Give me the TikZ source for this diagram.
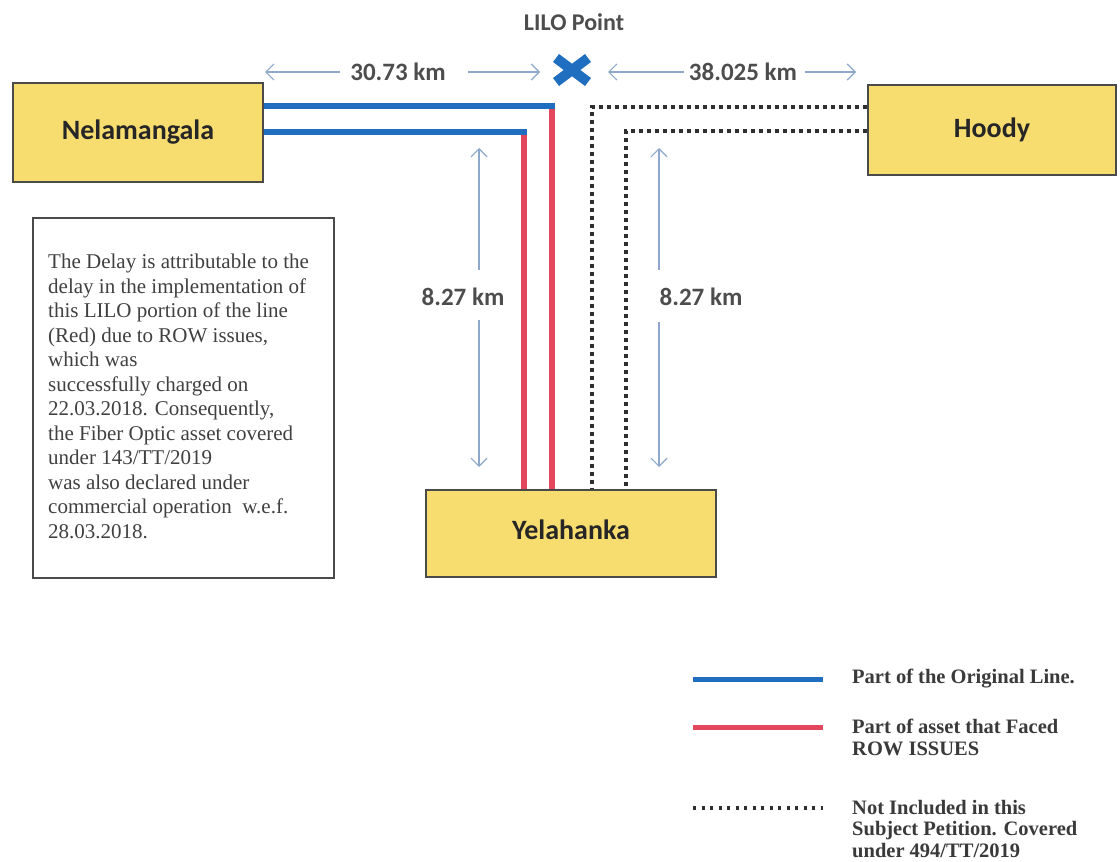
\documentclass[tikz,border=0pt]{standalone}
\usepackage{fontspec}
\setmainfont{Liberation Serif}
\newfontfamily\calib{Carlito}
\usetikzlibrary{arrows.meta}
\definecolor{boxyellow}{HTML}{F7DC6F}
\definecolor{boxborder}{HTML}{4A4A4A}
\definecolor{lineblue}{HTML}{1F6EC0}
\definecolor{linered}{HTML}{E2475E}
\definecolor{dimblue}{HTML}{8EA8CC}
\definecolor{labelgray}{HTML}{4D4D4D}
\definecolor{dotgray}{HTML}{2E2E2E}
\definecolor{legendgray}{HTML}{3A3A3A}
\begin{document}
\begin{tikzpicture}[x=1pt,y=-1pt,
  station/.style={draw=boxborder, line width=1.5pt, fill=boxyellow, inner sep=0pt,
    font=\calib\fontsize{28}{32}\selectfont\bfseries, text=black!85},
  dimlabel/.style={inner sep=0pt, font=\calib\fontsize{25}{30}\selectfont\bfseries, text=labelgray},
  dimarrow/.style={draw=dimblue, line width=1.2pt, -{Straight Barb[length=8pt,width=16pt]}},
  blueline/.style={draw=lineblue, line width=6pt},
  redline/.style={draw=linered, line width=6pt},
  dotline/.style={draw=dotgray, line width=4pt, dash pattern=on 4pt off 4pt},
  legendtext/.style={anchor=north west, inner sep=0pt, align=left, text=legendgray,
    font=\fontsize{20.5}{21.5}\selectfont\bfseries},
]
\useasboundingbox[fill=white] (0,0) rectangle (1120,862);

% stations
\node[station, minimum width=250pt, minimum height=99pt] (nel) at (138,132.5) {Nelamangala};
\node[station, minimum width=248pt, minimum height=90pt] (hoody) at (992,130) {\raisebox{4pt}{Hoody}};
\node[station, minimum width=290pt, minimum height=87pt] (yel) at (571,533.5) {\raisebox{7pt}{Yelahanka}};

% LILO point
\coordinate (lilo) at (572,70);
\node[font=\calib\fontsize{24}{28}\selectfont\bfseries, text=labelgray, inner sep=0pt] (lilolabel) at (574,22) {LILO Point};
\draw[draw=lineblue, line width=10pt] ([shift={(-16,-12)}]lilo) -- ([shift={(16,12)}]lilo);
\draw[draw=lineblue, line width=10pt] ([shift={(-16,12)}]lilo) -- ([shift={(16,-12)}]lilo);

% original and LILO lines
\coordinate (b1) at (552,106);
\coordinate (b2) at (524,132);
\draw[redline] (b1) -- (b1 |- yel.north);
\draw[redline] (b2) -- (b2 |- yel.north);
\draw[blueline] (nel.east |- b1) -- ([xshift=3pt]b1);
\draw[blueline] (nel.east |- b2) -- ([xshift=3pt]b2);

% dotted lines to Hoody
\coordinate (c1) at (592,107);
\coordinate (c2) at (626,131);
\draw[dotline] (hoody.west |- c1) -- (c1) -- (c1 |- yel.north);
\draw[dotline] (hoody.west |- c2) -- (c2) -- (c2 |- yel.north);

% distance 30.73 km
\node[dimlabel] (dimA) at (398,72) {30.73 km};
\coordinate (aL1) at (340,72); \coordinate (aL2) at (265,72);
\coordinate (aR1) at (468,72); \coordinate (aR2) at (540,72);
\draw[dimarrow] (aL1) -- (aL2);
\draw[dimarrow] (aR1) -- (aR2);

% distance 38.025 km
\node[dimlabel] (dimB) at (743,72) {38.025 km};
\coordinate (bL1) at (684,72); \coordinate (bL2) at (608,72);
\coordinate (bR1) at (805,72); \coordinate (bR2) at (856,72);
\draw[dimarrow] (bL1) -- (bL2);
\draw[dimarrow] (bR1) -- (bR2);

% vertical distances
\node[dimlabel] (dimC) at (463,297) {8.27 km};
\coordinate (cU1) at (479,270); \coordinate (cU2) at (479,148);
\coordinate (cD1) at (479,320); \coordinate (cD2) at (479,467);
\draw[dimarrow] (cU1) -- (cU2);
\draw[dimarrow] (cD1) -- (cD2);

\node[dimlabel] (dimD) at (701,297) {8.27 km};
\coordinate (dU1) at (659,270); \coordinate (dU2) at (659,148);
\coordinate (dD1) at (659,322); \coordinate (dD2) at (659,467);
\draw[dimarrow] (dU1) -- (dU2);
\draw[dimarrow] (dD1) -- (dD2);

% note box
\node[draw=boxborder, line width=1.8pt, minimum width=301pt, minimum height=360pt,
  anchor=north west, inner sep=0pt] (note) at (32,217) {};
\node[anchor=north west, inner sep=0pt, align=left, text=black!75,
  font=\fontsize{21}{24.5}\selectfont] (notetext) at (48,254) {The Delay is attributable to the\\
delay in the implementation of\\
this LILO portion of the line\\
(Red) due to ROW issues,\\
which was\\
successfully charged on\\
22.03.2018. Consequently,\\
the Fiber Optic asset covered\\
under 143/TT/2019\\
was also declared under\\
commercial operation\ \ w.e.f.\\
28.03.2018.};

% legend
\coordinate (l1a) at (693,679); \coordinate (l1b) at (823,679);
\coordinate (l2a) at (693,727); \coordinate (l2b) at (823,727);
\coordinate (l3a) at (693,808); \coordinate (l3b) at (823,808);
\draw[blueline, line width=5pt] (l1a) -- (l1b);
\draw[redline, line width=5pt] (l2a) -- (l2b);
\draw[dotline, line width=3.5pt, dash pattern=on 3pt off 5.5pt] (l3a) -- (l3b);
\node[legendtext, anchor=west] (leg1) at (852,679) {Part of the Original Line.};
\node[legendtext] (leg2) at (852,719) {Part of asset that Faced\\ROW ISSUES};
\node[legendtext] (leg3) at (852,800) {Not Included in this\\Subject Petition. Covered\\under 494/TT/2019};
\end{tikzpicture}
\end{document}
